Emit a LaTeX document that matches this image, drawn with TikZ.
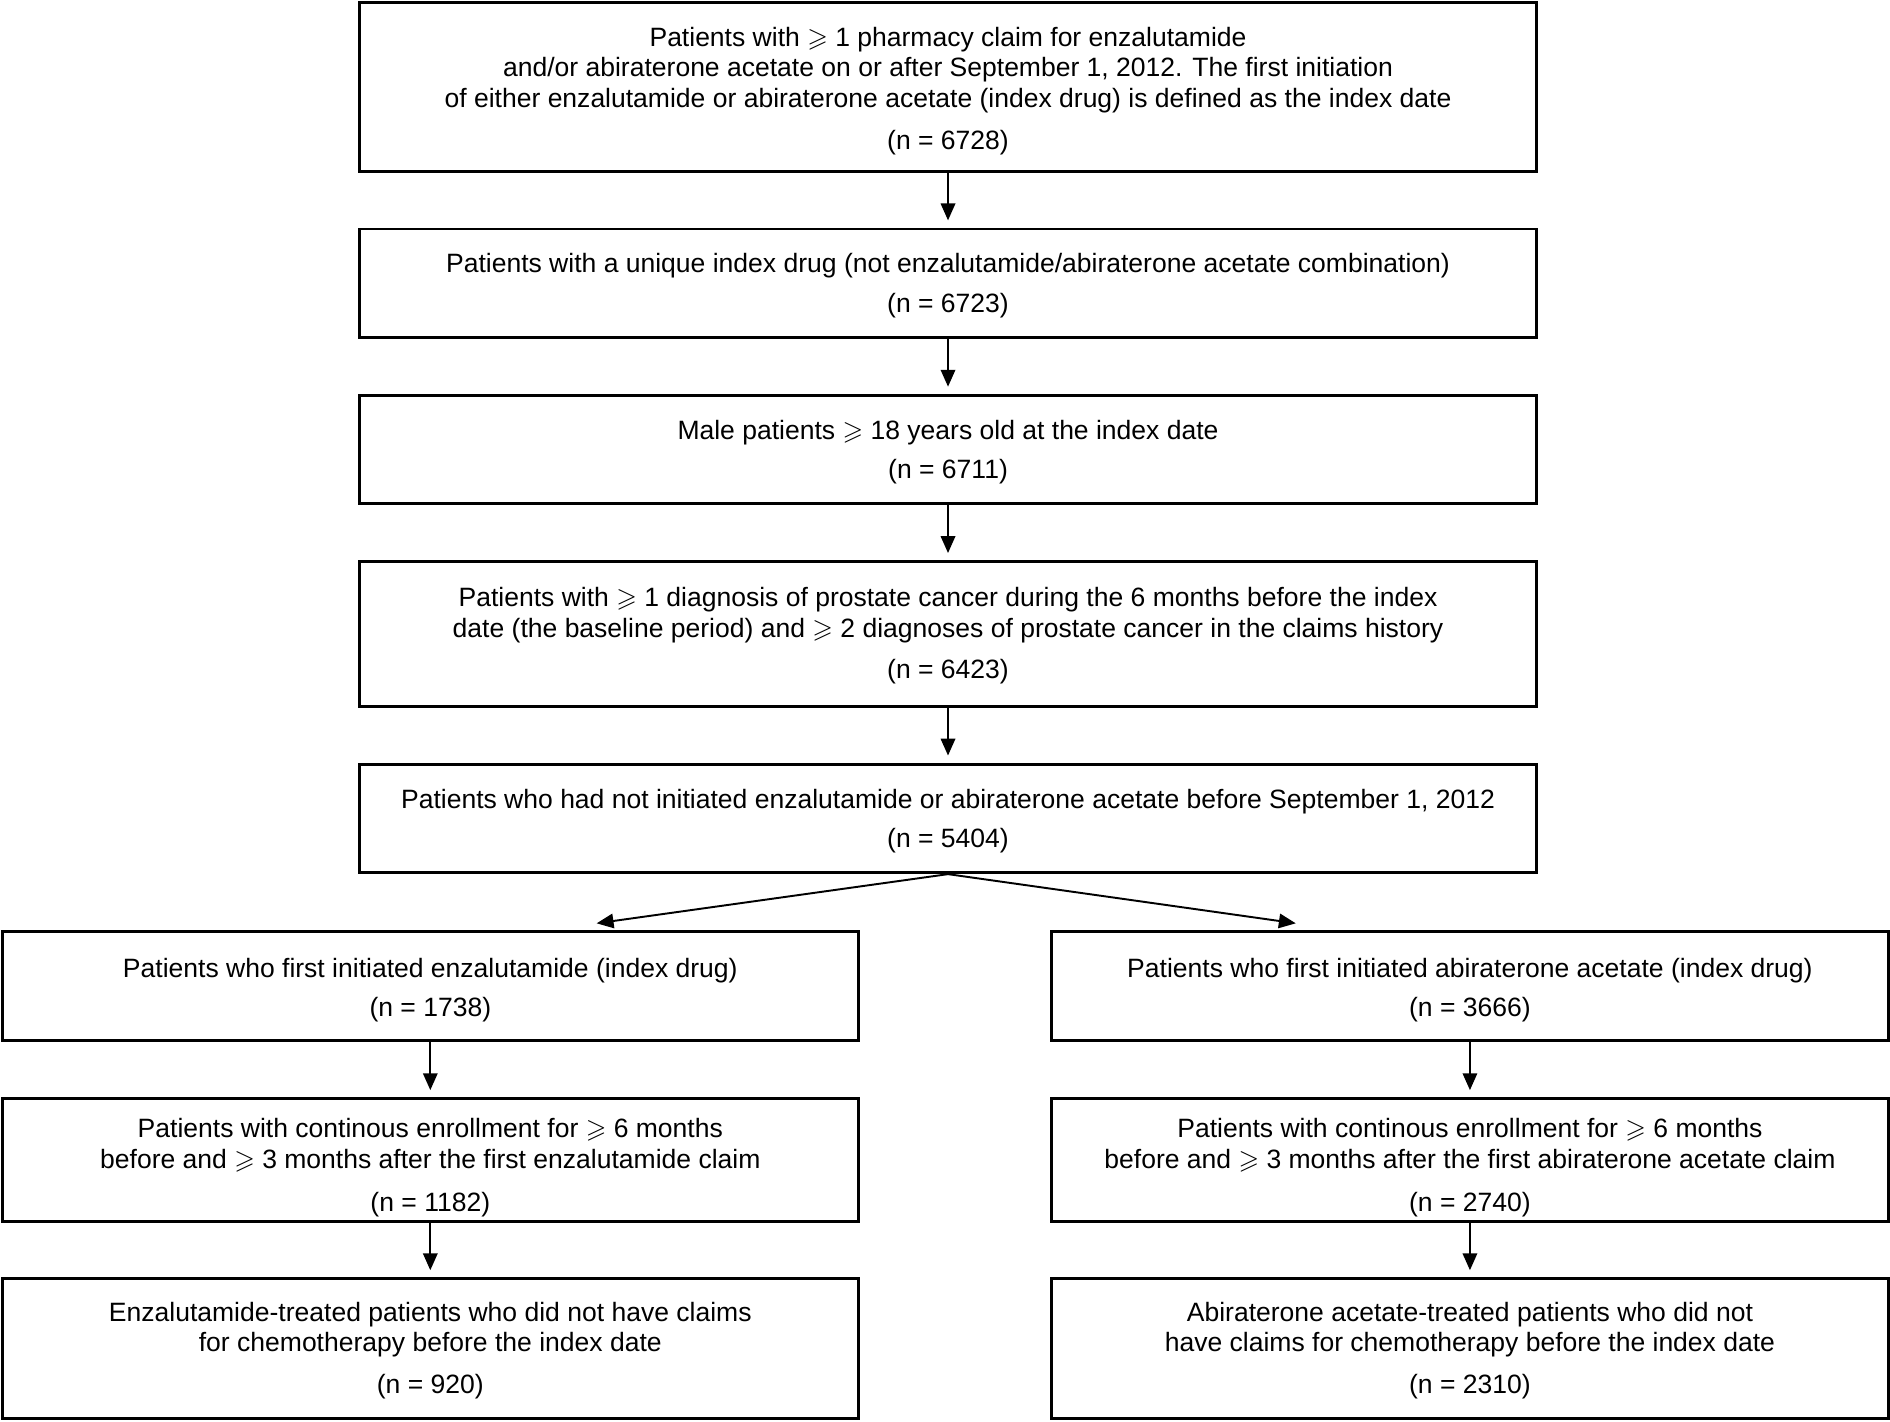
\documentclass[tikz,border=0pt]{standalone}
\usepackage{fontspec}
\usepackage{amssymb}
\setmainfont{Liberation Sans}
\usetikzlibrary{arrows.meta}
\newcommand\gqs{$\geqslant$}
\begin{document}
\begin{tikzpicture}[x=0.5pt,y=-0.5pt,
  box/.style={draw, line width=1.2pt, rectangle, inner sep=0pt},
  wide/.style={box, minimum width=488.5pt},
  side/.style={box, minimum width=355pt},
  sider/.style={box, minimum width=347.5pt},
  txt/.style={align=center, inner sep=0pt, font=\fontsize{11}{12.75}\selectfont},
  arr/.style={-{Triangle[length=7pt,width=6pt]}, line width=0.8pt, shorten >=3pt}]
\useasboundingbox (0,0) rectangle (1568,1179);
% boxes
\node[wide, minimum height=70pt] (b1) at (786.5,72) {};
\node[wide, minimum height=45pt] (b2) at (786.5,235) {};
\node[wide, minimum height=45pt] (b3) at (786.5,373) {};
\node[wide, minimum height=60pt] (b4) at (786.5,526) {};
\node[wide, minimum height=45pt] (b5) at (786.5,679) {};
\node[side, minimum height=45pt] (l1) at (357,818) {};
\node[side, minimum height=51pt] (l2) at (357,962.6) {};
\node[side, minimum height=58pt] (l3) at (357,1119) {};
\node[sider, minimum height=45pt] (r1) at (1219.5,818) {};
\node[sider, minimum height=51pt] (r2) at (1219.5,962.6) {};
\node[sider, minimum height=58pt] (r3) at (1219.5,1119) {};
% texts
\node[txt] (t1) at ([yshift=-1.75pt]b1.center) {Patients with \gqs{} 1 pharmacy claim for enzalutamide\\
and/or abiraterone acetate on or after September 1, 2012. The first initiation\\
of either enzalutamide or abiraterone acetate (index drug) is defined as the index date\\[4.75pt]
(n = 6728)};
\node[txt] (t2) at ([yshift=-1pt]b2.center) {Patients with a unique index drug (not enzalutamide/abiraterone acetate combination)\\[3.6pt]
(n = 6723)};
\node[txt] (t3) at ([yshift=-1pt]b3.center) {Male patients \gqs{} 18 years old at the index date\\[3.6pt]
(n = 6711)};
\node[txt] (t4) at ([yshift=-0.75pt]b4.center) {Patients with \gqs{} 1 diagnosis of prostate cancer during the 6 months before the index\\
date (the baseline period) and \gqs{} 2 diagnoses of prostate cancer in the claims history\\[4.5pt]
(n = 6423)};
\node[txt] (t5) at ([yshift=-1pt]b5.center) {Patients who had not initiated enzalutamide or abiraterone acetate before September 1, 2012\\[3.6pt]
(n = 5404)};
\node[txt] (tl1) at ([yshift=-1.75pt]l1.center) {Patients who first initiated enzalutamide (index drug)\\[3.6pt]
(n = 1738)};
\node[txt] (tl2) at ([yshift=-3pt]l2.center) {Patients with continous enrollment for \gqs{} 6 months\\
before and \gqs{} 3 months after the first enzalutamide claim\\[5.25pt]
(n = 1182)};
\node[txt] (tl3) at ([yshift=-0.75pt]l3.center) {Enzalutamide-treated patients who did not have claims\\
for chemotherapy before the index date\\[4.75pt]
(n = 920)};
\node[txt] (tr1) at ([yshift=-1.75pt]r1.center) {Patients who first initiated abiraterone acetate (index drug)\\[3.6pt]
(n = 3666)};
\node[txt] (tr2) at ([yshift=-3pt]r2.center) {Patients with continous enrollment for \gqs{} 6 months\\
before and \gqs{} 3 months after the first abiraterone acetate claim\\[5.25pt]
(n = 2740)};
\node[txt] (tr3) at ([yshift=-0.75pt]r3.center) {Abiraterone acetate-treated patients who did not\\
have claims for chemotherapy before the index date\\[4.75pt]
(n = 2310)};
% connectors
\coordinate (lt) at (495,766);
\coordinate (rt) at (1075,766);
\draw[arr] (b1) -- (b2);
\draw[arr] (b2) -- (b3);
\draw[arr] (b3) -- (b4);
\draw[arr] (b4) -- (b5);
\draw[arr, shorten >=0pt] (b5.south) -- (lt);
\draw[arr, shorten >=0pt] (b5.south) -- (rt);
\draw[arr] (l1) -- (l2);
\draw[arr] (l2) -- (l3);
\draw[arr] (r1) -- (r2);
\draw[arr] (r2) -- (r3);
\end{tikzpicture}
\end{document}
